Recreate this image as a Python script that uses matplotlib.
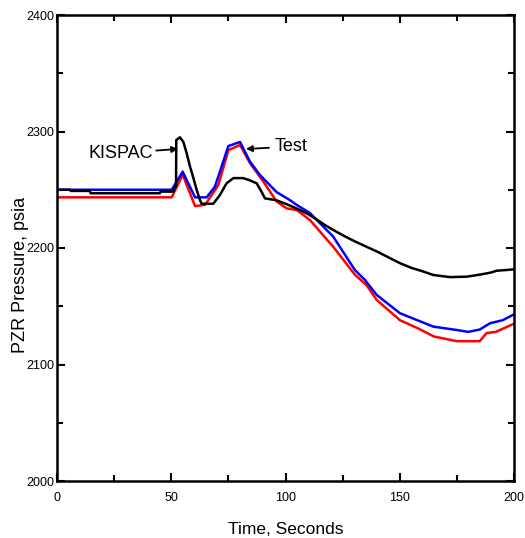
import matplotlib
matplotlib.use("Agg")
import matplotlib.pyplot as plt

# Blue series
blue_t = [0, 50.2, 55, 60.4, 65.5, 69.1, 75, 80.1, 84.5, 88.8, 96.1, 102, 104.9, 110.7,
          120.9, 130.4, 134.8, 139.9, 150.1, 164.7, 175, 180, 185, 189.5, 195, 200]
blue_p = [2250, 2250, 2265.5, 2243.5, 2243.5, 2252.6, 2287.5, 2291, 2274, 2262.7, 2248, 2241, 2237, 2230,
          2209.7, 2181, 2172.5, 2159.7, 2144, 2132.5, 2129.6, 2128, 2130, 2135.4, 2138, 2143]

# Red series
red_t = [0, 50.2, 55, 60.4, 64.8, 70.6, 75, 80.1, 84.5, 90.3, 96.1, 100.5, 104.9, 110.7,
         120.9, 130.4, 135.5, 139.9, 150.1, 158, 165, 175, 185, 188, 192, 200]
red_p = [2243.5, 2243.5, 2263, 2236, 2237, 2254, 2284, 2288.4, 2272.7, 2257, 2240, 2234, 2232.6, 2224,
         2201, 2177, 2168, 2155.4, 2138, 2131, 2124, 2120, 2120, 2127, 2128, 2135]

# KISPAC (black)
blk_t = [0, 5.7, 6, 14.4, 14.7, 45, 45.3, 51, 51.5, 52.1, 52.2, 53.8, 55.3, 56.8, 58.2, 59.7,
         61.1, 62.6, 63.3, 68.4, 71.3, 74.2, 77.2, 81.5, 84.5, 87.4, 89.6, 91, 96, 100, 103,
         106.3, 110, 114, 117, 120.9, 125, 130, 135.5, 140, 145, 150.1, 155, 160, 164.7, 168,
         172, 179.3, 183, 186.6, 190, 192.4, 196, 200]
blk_p = [2250, 2250, 2249, 2249, 2247, 2247, 2248.4, 2248.4, 2252.6, 2252.6, 2292.7, 2295, 2291,
         2281, 2270, 2260, 2250, 2241, 2238, 2238, 2245.5, 2255.5, 2260, 2260, 2258, 2255.5, 2248,
         2242.6, 2241, 2238, 2235.5, 2232.6, 2229, 2224, 2220, 2215.5, 2211, 2206, 2201, 2197,
         2192, 2187, 2183, 2180, 2176.8, 2176, 2175, 2175.4, 2176.5, 2177.7, 2179, 2180.5, 2181,
         2181.7]

plt.rcParams['font.family'] = ['Liberation Sans', 'DejaVu Sans']

fig = plt.figure(figsize=(5.25, 5.38), dpi=100)
ax = fig.add_axes([57/525, 1 - 481/538, 457/525, 466/538])

ax.plot(blk_t, blk_p, color='black', lw=1.8, zorder=3)
ax.plot(red_t, red_p, color='#ff0000', lw=1.8, zorder=2)
ax.plot(blue_t, blue_p, color='#0000ff', lw=1.8, zorder=2)

ax.set_xlim(0, 200)
ax.set_ylim(2000, 2400)
ax.set_xticks([0, 50, 100, 150, 200])
ax.set_xticks([25, 75, 125, 175], minor=True)
ax.set_yticks([2000, 2100, 2200, 2300, 2400])
ax.set_yticks([2050, 2150, 2250, 2350], minor=True)
ax.tick_params(which='both', direction='in', top=True, right=True, width=1.5, labelsize=9)
ax.tick_params(which='major', length=6)
ax.tick_params(which='minor', length=4)
ax.tick_params(axis='x', pad=8)
ax.tick_params(axis='y', pad=2)
for s in ax.spines.values():
    s.set_linewidth(1.8)

ax.set_xlabel('Time, Seconds', fontsize=12.5, labelpad=13)
ax.set_ylabel('PZR Pressure, psia', fontsize=13)
ax.yaxis.set_label_coords(-0.062, 0.442)

ax.annotate('KISPAC', xy=(53, 2285), xytext=(14, 2281.5), fontsize=13,
            va='center', ha='left',
            arrowprops=dict(arrowstyle='-|>', color='black', lw=1.3, mutation_scale=9,
                            shrinkA=0, shrinkB=0))
ax.annotate('Test', xy=(82.7, 2285), xytext=(95.2, 2287), fontsize=13,
            va='center', ha='left',
            arrowprops=dict(arrowstyle='-|>', color='black', lw=1.3, mutation_scale=9,
                            shrinkA=2, shrinkB=0))

fig.savefig('out.png', dpi=100)
